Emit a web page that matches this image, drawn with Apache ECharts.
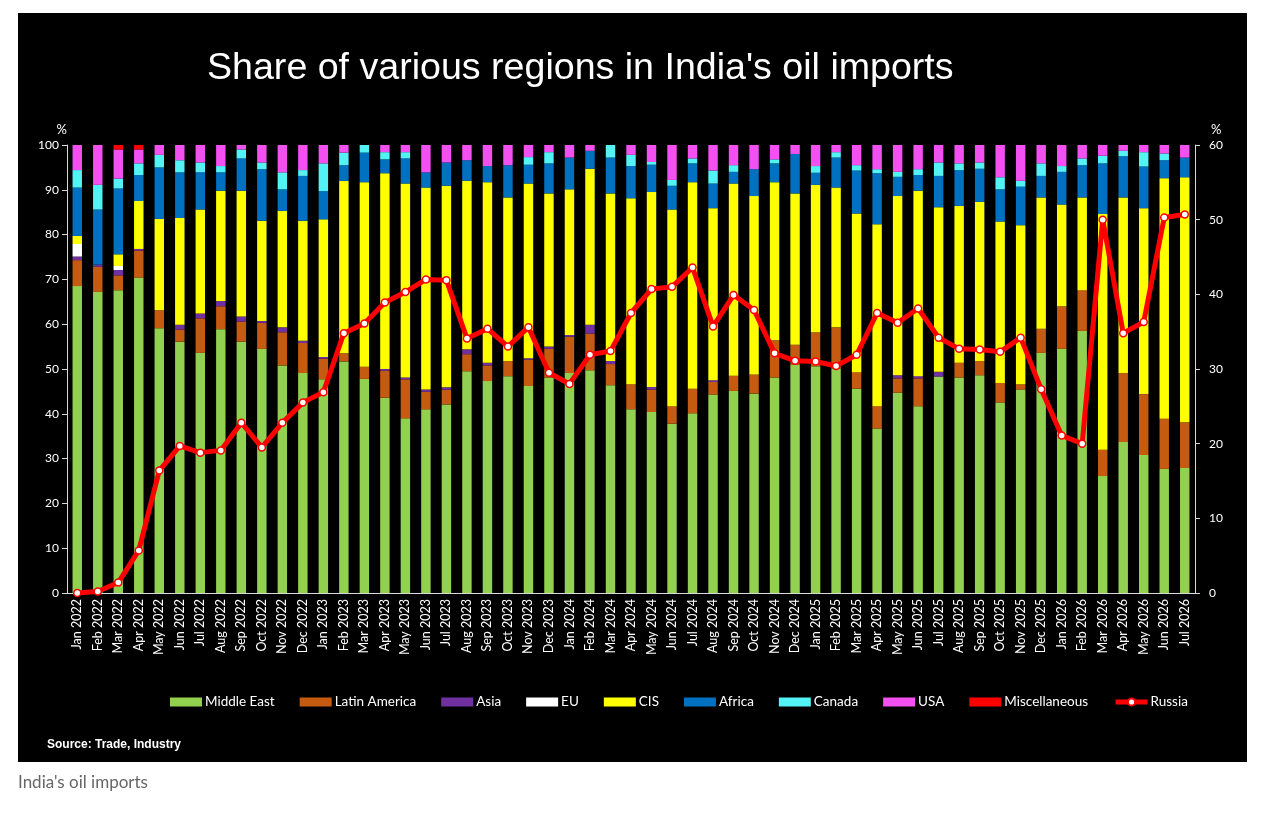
<!DOCTYPE html>
<html>
<head>
<meta charset="utf-8">
<script src="https://cdn.jsdelivr.net/npm/echarts@6/dist/echarts.min.js"></script>
<style>
  html, body { margin: 0; padding: 0; background: #fff; }
  #chart { width: 1280px; height: 815px; }
</style>
</head>
<body>
<div id="chart"></div>
<script>
// month labels, Jan 2022 .. Jul 2026
var months = [
  'Jan 2022','Feb 2022','Mar 2022','Apr 2022','May 2022','Jun 2022','Jul 2022','Aug 2022','Sep 2022','Oct 2022','Nov 2022','Dec 2022',
  'Jan 2023','Feb 2023','Mar 2023','Apr 2023','May 2023','Jun 2023','Jul 2023','Aug 2023','Sep 2023','Oct 2023','Nov 2023','Dec 2023',
  'Jan 2024','Feb 2024','Mar 2024','Apr 2024','May 2024','Jun 2024','Jul 2024','Aug 2024','Sep 2024','Oct 2024','Nov 2024','Dec 2024',
  'Jan 2025','Feb 2025','Mar 2025','Apr 2025','May 2025','Jun 2025','Jul 2025','Aug 2025','Sep 2025','Oct 2025','Nov 2025','Dec 2025',
  'Jan 2026','Feb 2026','Mar 2026','Apr 2026','May 2026','Jun 2026','Jul 2026'
];

// share of imports by region (%)
var middleEast = [68.5,67.2,67.6,70.4,59.1,56.1,53.6,58.9,56.1,54.5,50.8,49.1,
  47.7,51.7,47.8,43.6,39.0,41.0,42.1,49.5,47.3,48.4,46.2,48.1,
  49.1,49.7,46.4,41.0,40.4,37.8,40.1,44.3,45.1,44.5,48.1,50.9,
  50.6,50.1,45.6,36.7,44.7,41.7,48.3,48.1,48.6,42.5,45.4,53.6,
  54.5,58.5,26.1,33.7,30.8,27.7,27.9];
var latinAmerica = [5.8,5.6,3.3,6.0,4.0,2.7,7.7,5.1,4.5,5.8,7.4,6.7,
  4.6,1.8,2.7,6.0,8.7,3.9,3.3,3.8,3.5,3.4,5.9,6.4,
  8.1,8.2,4.7,5.6,5.0,3.9,5.5,2.8,3.4,4.3,8.3,4.5,
  7.6,9.2,3.7,5.0,3.2,6.2,0,3.3,3.2,4.4,1.2,5.4,
  9.5,9.1,5.9,15.4,13.6,11.2,10.2];
var asia = [0.8,0.5,1.2,0.4,0,1.1,1.1,1.2,1.1,0.4,1.1,0.5,
  0.4,0,0,0.4,0.4,0.5,0.5,1.1,0.6,0,0.3,0.5,
  0.4,2.0,0.7,0,0.6,0,0,0.4,0,0,0,0,
  0,0,0,0,0.7,0.5,1.1,0,0,0,0,0,
  0,0,0,0,0,0,0];
var eu = [2.8,0,0.9,0,0,0,0,0,0,0,0,0,
  0,0,0,0,0,0,0,0,0,0,0,0,
  0,0,0,0,0,0,0,0,0,0,0,0,
  0,0,0,0,0,0,0,0,0,0,0,0,
  0,0,0,0,0,0,0];
var cis = [1.8,0,2.6,10.7,20.4,23.8,23.2,24.6,28.1,22.4,26.0,26.8,
  30.7,38.5,41.2,43.7,43.3,45.1,45.0,37.6,40.3,36.5,39.0,34.2,
  32.5,34.8,37.4,41.5,43.5,43.9,46.1,38.4,42.9,39.8,35.3,33.8,
  32.9,31.2,35.4,40.6,40.0,41.4,36.7,35.0,35.5,36.0,35.5,29.3,
  22.7,20.7,52.6,39.2,41.5,53.7,54.7];
var africa = [10.8,12.3,14.7,5.8,11.5,10.2,8.3,4.1,7.2,11.5,4.8,10.0,
  6.3,3.5,6.6,3.1,5.6,3.4,5.2,4.6,3.6,7.2,4.2,6.7,
  7.1,4.0,8.0,7.2,6.1,5.3,4.2,5.5,2.6,6.0,4.2,8.8,
  2.7,6.7,9.6,11.4,4.3,3.5,7.0,8.0,7.4,7.2,8.6,4.8,
  7.3,7.2,11.3,9.2,9.3,4.0,4.4];
var canada = [3.9,5.5,2.2,2.6,2.8,2.7,2.2,1.4,2.0,1.5,3.8,1.3,
  6.2,2.8,1.7,1.6,1.4,0,0,0,0,0,1.7,2.5,
  0,0,2.8,2.5,0.6,1.3,1.1,2.9,1.5,0,0.9,0,
  1.5,1.2,1.2,0.9,1.1,1.3,3.0,1.5,1.4,2.7,1.3,2.8,
  1.3,1.5,1.7,1.2,3.2,1.5,0];
var usa = [5.6,8.9,6.5,3.1,2.2,3.4,3.9,4.7,1.0,3.9,6.1,5.6,
  4.1,1.7,0,1.6,1.6,6.1,3.9,3.4,4.7,4.5,3.0,1.6,
  2.8,1.3,0,2.2,3.8,7.8,3.0,5.7,4.5,5.4,3.2,2.0,
  4.7,1.6,4.5,5.4,6.0,5.4,3.9,4.1,3.9,7.2,8.0,4.1,
  4.7,3.0,2.4,1.3,1.6,1.9,2.8];
var miscellaneous = [0,0,1.0,1.0,0,0,0,0,0,0,0,0,
  0,0,0,0,0,0,0,0,0,0,0,0,
  0,0,0,0,0,0,0,0,0,0,0,0,
  0,0,0,0,0,0,0,0,0,0,0,0,
  0,0,0,0,0,0,0];
// Russia share, right axis
var russia = [0,0.2,1.4,5.7,16.4,19.7,18.8,19.1,22.8,19.5,22.8,25.5,
  26.9,34.8,36.1,38.9,40.3,42.0,41.9,34.1,35.4,33.0,35.6,29.5,
  28.0,31.9,32.4,37.5,40.7,41.0,43.6,35.7,39.9,37.9,32.1,31.1,
  31.0,30.4,31.9,37.5,36.2,38.1,34.2,32.7,32.6,32.3,34.2,27.3,
  21.1,20.0,50.0,34.8,36.3,50.3,50.7];

var leftTicks = [0,10,20,30,40,50,60,70,80,90,100];
var rightTicks = [0,10,20,30,40,50,60];

var regions = [
  ['Middle East', middleEast, '#92d050'],
  ['Latin America', latinAmerica, '#c55a11'],
  ['Asia', asia, '#7030a0'],
  ['EU', eu, '#ffffff'],
  ['CIS', cis, '#ffff00'],
  ['Africa', africa, '#0070c0'],
  ['Canada', canada, '#52f2f5'],
  ['USA', usa, '#f250f0'],
  ['Miscellaneous', miscellaneous, '#ff0000']
];

var lblFont = 'Lato, "Open Sans", sans-serif';

var series = regions.map(function(r){
  return {
    name: r[0],
    type: 'bar',
    stack: 'share',
    barWidth: '46%',
    itemStyle: { color: r[2] },
    data: r[1]
  };
});
series.push({
  name: 'Russia',
  type: 'line',
  yAxisIndex: 1,
  data: russia,
  symbol: 'circle',
  symbolSize: 7,
  lineStyle: { color: '#ff0000', width: 5 },
  itemStyle: { color: '#ffffff', borderColor: '#ff0000', borderWidth: 1.5 },
  z: 5
});

var legendData = regions.map(function(r){ return { name: r[0], icon: 'rect' }; });
legendData.push({ name: 'Russia', lineStyle: { width: 5, color: '#ff0000' } });

var chart = echarts.init(document.getElementById('chart'));
chart.setOption({
  animation: false,
  backgroundColor: '#ffffff',
  graphic: [
    { type: 'rect', z: -10, shape: { x: 18, y: 13, width: 1229, height: 749 }, style: { fill: '#000000' } },
    { type: 'text', left: 47, top: 739, style: { text: 'Source: Trade, Industry', fill: '#ffffff', font: 'bold 12px "Liberation Sans", Arial, sans-serif' } },
    { type: 'text', left: 18, top: 774, style: { text: "India's oil imports", fill: '#666666', font: '17px Lato, "Open Sans", sans-serif' } }
  ],
  title: {
    text: "Share of various regions in India's oil imports",
    left: 202, top: 45,
    textStyle: { color: '#ffffff', fontSize: 37.6, fontWeight: 'normal', fontFamily: '"Liberation Sans Narrow", "Arial Narrow", "Liberation Sans", Arial, sans-serif' }
  },
  legend: {
    data: legendData,
    left: 165, top: 690,
    itemWidth: 32, itemHeight: 9, itemGap: 25,
    textStyle: { color: '#ffffff', fontSize: 13.5, fontFamily: lblFont, padding: [0, 0, 0, -2] }
  },
  grid: { left: 67, right: 85, top: 145, bottom: 222 },
  xAxis: {
    type: 'category',
    data: months,
    axisLine: { lineStyle: { color: '#d9d9d9' } },
    axisTick: { lineStyle: { color: '#d9d9d9' } },
    axisLabel: { rotate: 90, interval: 0, color: '#ffffff', fontSize: 12.5, fontFamily: lblFont, margin: 6 }
  },
  yAxis: [
    {
      type: 'value', min: 0, max: leftTicks[leftTicks.length - 1], interval: 10,
      name: '%', nameLocation: 'end', nameGap: 9,
      nameTextStyle: { color: '#ffffff', fontSize: 13, fontFamily: lblFont, align: 'right', padding: [0, 0, 0, 0] },
      splitLine: { show: false },
      axisLine: { show: true, lineStyle: { color: '#d9d9d9' } },
      axisTick: { show: true, lineStyle: { color: '#d9d9d9' } },
      axisLabel: { color: '#ffffff', fontSize: 12, fontFamily: lblFont, margin: 8 }
    },
    {
      type: 'value', min: 0, max: rightTicks[rightTicks.length - 1], interval: 10,
      name: '%', nameLocation: 'end', nameGap: 9,
      nameTextStyle: { color: '#ffffff', fontSize: 13, fontFamily: lblFont, align: 'left', padding: [0, 0, 0, 16] },
      splitLine: { show: false },
      axisLine: { show: true, lineStyle: { color: '#d9d9d9' } },
      axisTick: { show: true, lineStyle: { color: '#d9d9d9' } },
      axisLabel: { color: '#ffffff', fontSize: 12, fontFamily: lblFont, margin: 14 }
    }
  ],
  series: series
});
</script>
</body>
</html>
